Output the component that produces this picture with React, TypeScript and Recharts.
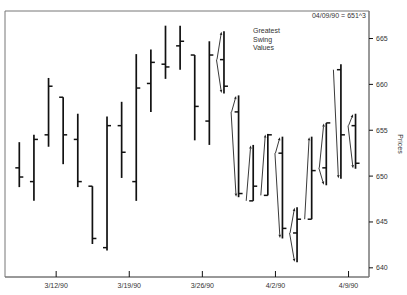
import React from 'react';
import { ComposedChart, Bar, XAxis, YAxis, ReferenceArea, Customized } from 'recharts';

const dates = [
  '3/7/90', '3/8/90', '3/9/90', '3/12/90', '3/13/90', '3/14/90', '3/15/90', '3/16/90',
  '3/19/90', '3/20/90', '3/21/90', '3/22/90', '3/23/90', '3/26/90', '3/27/90', '3/28/90',
  '3/29/90', '3/30/90', '4/2/90', '4/3/90', '4/4/90', '4/5/90', '4/6/90', '4/9/90',
];
const opens = [650.9, 649.4, 654.5, 658.6, 654.0, 648.9, 642.2, 655.5, 649.4, 660.1, 662.2, 664.2,
  663.2, 656.0, 662.7, 657.0, 647.3, 647.9, 652.5, 643.8, 645.3, 650.9, 661.6, 655.5];
const highs = [653.7, 654.5, 660.7, 658.6, 656.8, 648.9, 656.5, 658.1, 663.3, 663.8, 666.4, 666.4,
  663.2, 664.7, 665.8, 658.8, 653.4, 654.6, 654.3, 646.6, 654.3, 655.8, 662.2, 656.8];
const lows = [648.8, 647.3, 653.2, 651.3, 648.8, 642.6, 641.9, 649.8, 647.3, 657.0, 660.6, 661.6,
  653.9, 653.4, 659.0, 647.7, 647.3, 647.9, 643.2, 640.6, 645.3, 649.0, 649.7, 650.8];
const closes = [649.9, 654.0, 659.8, 654.5, 649.4, 643.2, 655.5, 652.6, 659.6, 662.4, 661.9, 664.7,
  657.6, 663.2, 659.8, 648.1, 648.9, 654.5, 644.3, 645.3, 650.6, 655.8, 654.5, 651.4];
const swingUp = [false, false, false, false, false, false, false, false, false, false, false, false,
  false, false, true, true, true, true, true, true, true, true, false, true];
const swingDown = [false, false, false, false, false, false, false, false, false, false, false, false,
  false, false, true, true, false, false, true, true, false, true, true, true];

const xTickLabels = ['3/12/90', '3/19/90', '3/26/90', '4/2/90', '4/9/90'];
const yTicks = [640, 645, 650, 655, 660, 665];
const titleLines = ['Greatest', 'Swing', 'Values'];
const lastNote = '04/09/90 = 651^3';

const data = dates.map((d, i) => ({
  idx: i,
  date: d,
  open: opens[i],
  high: highs[i],
  low: lows[i],
  close: closes[i],
  range: [lows[i], highs[i]],
  up: swingUp[i],
  down: swingDown[i],
}));

const xTicks = xTickLabels.map((l) => dates.indexOf(l) - 0.5);

const FONT = '"Liberation Sans", Arial, sans-serif';

function arrow(x1: number, y1: number, x2: number, y2: number, key: string) {
  const dx = x2 - x1;
  const dy = y2 - y1;
  const len = Math.sqrt(dx * dx + dy * dy) || 1;
  const ux = dx / len;
  const uy = dy / len;
  const hl = 3.2;
  const hw = 1.3;
  const bx = x2 - ux * hl;
  const by = y2 - uy * hl;
  const px = -uy;
  const py = ux;
  return (
    <g key={key}>
      <line x1={x1} y1={y1} x2={bx} y2={by} stroke="#222" strokeWidth={0.9} />
      <polygon
        points={`${x2},${y2} ${bx + px * hw},${by + py * hw} ${bx - px * hw},${by - py * hw}`}
        fill="#222"
      />
    </g>
  );
}

const OhlcShape = (props: any) => {
  const { x, y, width, height } = props;
  const p = props.payload || props;
  const { open, high, low, close, up, down } = p;
  const top = Math.min(y, y + height);
  const h = Math.abs(height);
  const cx = x + width / 2;
  const k = high - low > 0 ? h / (high - low) : 0;
  const yOf = (v: number) => top + (high - v) * k;
  const yo = yOf(open);
  const yc = yOf(close);
  return (
    <g>
      <line x1={cx} x2={cx} y1={top} y2={top + h} stroke="#111" strokeWidth={1.7} />
      <line x1={cx - 4} x2={cx} y1={yo} y2={yo} stroke="#111" strokeWidth={1.5} />
      <line x1={cx} x2={cx + 4} y1={yc} y2={yc} stroke="#111" strokeWidth={1.5} />
      {up ? arrow(cx - 7, yo, cx - 2.5, top + 0.5, 'u') : null}
      {down ? arrow(cx - 7.5, yo, cx - 2.5, top + h - 0.5, 'd') : null}
    </g>
  );
};

const XTick = (props: any) => {
  const { x, y, payload } = props;
  const i = xTicks.indexOf(payload.value);
  return (
    <g>
      <line x1={x} x2={x} y1={y - 6} y2={y} stroke="#111" strokeWidth={1} />
      <text x={x} y={y + 11} textAnchor="middle" fontSize={7} fill="#333" fontFamily={FONT}>
        {i >= 0 ? xTickLabels[i] : ''}
      </text>
    </g>
  );
};

const YLabel = (props: any) => {
  const vb = props.viewBox || {};
  const cx = (vb.x || 0) + (vb.width || 0) - 7;
  const cy = (vb.y || 0) + (vb.height || 0) / 2;
  return (
    <text
      x={cx}
      y={cy}
      textAnchor="middle"
      dominantBaseline="central"
      fontSize={7}
      fill="#333"
      fontFamily={FONT}
      transform={`rotate(90, ${cx}, ${cy})`}
    >
      Prices
    </text>
  );
};

const Annotations = () => (
  <g fontFamily={FONT} fontSize={7} fill="#333">
    {titleLines.map((t, i) => (
      <text key={t} x={253} y={33 + i * 8.7}>
        {t}
      </text>
    ))}
    <text x={366} y={18} textAnchor="end">
      {lastNote}
    </text>
  </g>
);

export default function App() {
  return (
    <div style={{ position: 'absolute', left: 0, top: 0, width: 407, height: 295, background: '#fff' }}>
      <ComposedChart
        width={407}
        height={295}
        data={data}
        margin={{ top: 11, left: 5, right: 0, bottom: 0 }}
      >
        <XAxis
          dataKey="idx"
          type="number"
          domain={[-1, 23.9]}
          ticks={xTicks}
          interval={0}
          allowDataOverflow
          height={18}
          tickSize={0}
          tickMargin={0}
          tickLine={false}
          axisLine={{ stroke: '#777' }}
          tick={<XTick />}
        />
        <YAxis
          orientation="right"
          type="number"
          domain={[639, 668]}
          ticks={yTicks}
          interval={0}
          allowDataOverflow
          width={38}
          tickSize={4}
          tickMargin={3}
          axisLine={{ stroke: '#777' }}
          tickLine={{ stroke: '#111' }}
          tick={{ fontSize: 7, fill: '#333', fontFamily: FONT }}
          label={<YLabel />}
        />
        <ReferenceArea
          x1={-1}
          x2={23.9}
          y1={639}
          y2={668}
          fill="none"
          fillOpacity={0}
          stroke="#777"
          strokeOpacity={1}
          strokeWidth={1}
        />
        <Bar dataKey="range" barSize={8} shape={<OhlcShape />} isAnimationActive={false} />
        <Customized component={Annotations} />
      </ComposedChart>
    </div>
  );
}
